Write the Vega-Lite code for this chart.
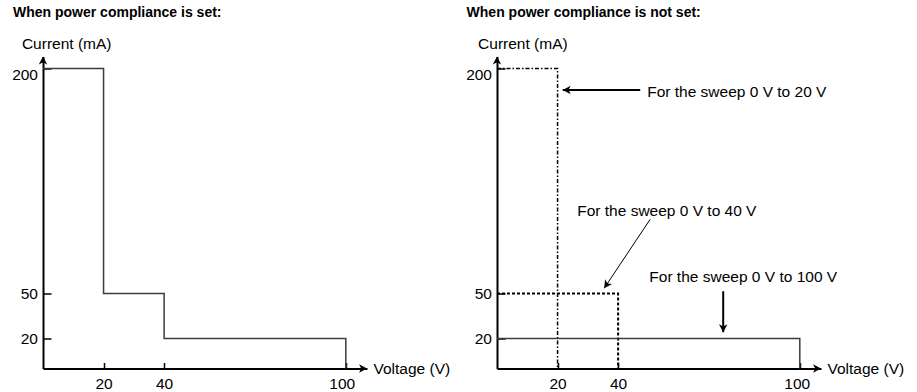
{
  "$schema": "https://vega.github.io/schema/vega-lite/v6.json",
  "padding": {"left": 11, "top": 5.5, "right": 0, "bottom": 0},
  "background": "white",
  "bounds": "flush",
  "spacing": 130,
  "config": {
    "view": {"stroke": null},
    "font": "Liberation Sans",
    "axis": {
      "domainColor": "black", "domainWidth": 2, "tickColor": "black", "tickWidth": 1.5,
      "labelColor": "black", "labelFontSize": 15.5, "labelFont": "Liberation Sans",
      "titleFontSize": 15.5, "titleFontWeight": "normal", "titleColor": "black", "titleFont": "Liberation Sans",
      "grid": false, "labelFlush": false, "labelOverlap": false, "labelBound": false
    },
    "axisX": {"tickSize": -6, "labelPadding": 14, "labelAngle": 0, "titleAngle": 0, "titleX": 330, "titleY": 0, "titleAlign": "left", "titleBaseline": "middle"},
    "axisY": {"tickSize": -8, "labelPadding": 13.5, "titleAngle": 0, "titleAlign": "left", "titleBaseline": "alphabetic", "titleY": -7.8}
  },
  "datasets": {
    "steps": [
      {"s": "set", "i": 0, "v": 0, "c": 200}, {"s": "set", "i": 1, "v": 20, "c": 200},
      {"s": "set", "i": 2, "v": 20, "c": 50}, {"s": "set", "i": 3, "v": 40, "c": 50},
      {"s": "set", "i": 4, "v": 40, "c": 20}, {"s": "set", "i": 5, "v": 100, "c": 20},
      {"s": "set", "i": 6, "v": 100, "c": 0},
      {"s": "s20", "i": 0, "v": 0, "c": 200}, {"s": "s20", "i": 1, "v": 20, "c": 200}, {"s": "s20", "i": 2, "v": 20, "c": 0},
      {"s": "s40", "i": 0, "v": 0, "c": 50}, {"s": "s40", "i": 1, "v": 40, "c": 50}, {"s": "s40", "i": 2, "v": 40, "c": 0},
      {"s": "s100", "i": 0, "v": 0, "c": 20}, {"s": "s100", "i": 1, "v": 100, "c": 20}, {"s": "s100", "i": 2, "v": 100, "c": 0}
    ],
    "axisArrows": [{"d": "up", "v": 0, "c": 208}, {"d": "right", "v": 107, "c": 0}],
    "arrows": [
      {"a": "a20", "v": 21.7, "c": 185.7, "v2": 47.3, "c2": 185.7},
      {"a": "a40", "v": 35.4, "c": 53.5, "v2": 50.6, "c2": 99.5},
      {"a": "a100", "v": 74.7, "c": 24.2, "v2": 74.7, "c2": 51.5}
    ],
    "notes": [
      {"t": "For the sweep 0 V to 20 V", "v": 49.6, "c": 181.1},
      {"t": "For the sweep 0 V to 40 V", "v": 26.5, "c": 101.5},
      {"t": "For the sweep 0 V to 100 V", "v": 50.3, "c": 57.7}
    ]
  },
  "hconcat": [
    {
      "width": 324, "height": 312,
      "title": {"text": "When power compliance is set:", "anchor": "start", "frame": "group", "dx": -30, "fontSize": 14, "fontWeight": "bold", "font": "Liberation Sans", "color": "black", "offset": 17},
      "encoding": {
        "x": {"field": "v", "type": "quantitative", "scale": {"domain": [0, 107], "nice": false, "zero": true},
              "axis": {"values": [20, 40, 100], "title": "Voltage (V)", "labelOffset": {"condition": {"test": "datum.value == 100", "value": -4}, "value": 0}}},
        "y": {"field": "c", "type": "quantitative", "scale": {"domain": [0, 208], "nice": false, "zero": true},
              "axis": {"values": [20, 50, 200], "title": "Current (mA)", "titleX": -21.6, "labelOffset": {"condition": {"test": "datum.value == 200", "value": 6}, "value": 0}}}
      },
      "layer": [
        {"data": {"name": "steps"}, "transform": [{"filter": "datum.s == 'set'"}],
         "mark": {"type": "line", "color": "#3c3c3c", "strokeWidth": 1.5, "strokeCap": "butt", "strokeJoin": "miter"},
         "encoding": {"order": {"field": "i", "type": "quantitative"}}},
        {"data": {"name": "axisArrows"}, "transform": [{"filter": "datum.d == 'up'"}],
         "mark": {"type": "point", "shape": "M0,0 L1.6,3 L0,2.2 L-1.6,3 Z", "filled": true, "color": "black", "size": 28, "opacity": 1, "angle": 0},
         "encoding": {}},
        {"data": {"name": "axisArrows"}, "transform": [{"filter": "datum.d == 'right'"}],
         "mark": {"type": "point", "shape": "M0,0 L1.6,3 L0,2.2 L-1.6,3 Z", "filled": true, "color": "black", "size": 28, "opacity": 1, "angle": 90},
         "encoding": {}}
      ]
    },
    {
      "width": 324, "height": 312,
      "title": {"text": "When power compliance is not set:", "anchor": "start", "frame": "group", "dx": -30.4, "fontSize": 14, "fontWeight": "bold", "font": "Liberation Sans", "color": "black", "offset": 17},
      "encoding": {
        "x": {"field": "v", "type": "quantitative", "scale": {"domain": [0, 107], "nice": false, "zero": true},
              "axis": {"values": [20, 40, 100], "title": "Voltage (V)", "labelOffset": {"condition": {"test": "datum.value == 100", "value": -3}, "value": 0}}},
        "y": {"field": "c", "type": "quantitative", "scale": {"domain": [0, 208], "nice": false, "zero": true},
              "axis": {"values": [20, 50, 200], "title": "Current (mA)", "titleX": -19.4, "labelOffset": {"condition": {"test": "datum.value == 200", "value": 6}, "value": 0}}}
      },
      "layer": [
        {"data": {"name": "steps"}, "transform": [{"filter": "datum.s == 's20'"}],
         "mark": {"type": "line", "color": "black", "strokeWidth": 1.5, "strokeDash": [4, 2, 1.5, 2], "strokeCap": "butt"},
         "encoding": {"order": {"field": "i", "type": "quantitative"}}},
        {"data": {"name": "steps"}, "transform": [{"filter": "datum.s == 's40'"}],
         "mark": {"type": "line", "color": "black", "strokeWidth": 2, "strokeDash": [3, 2], "strokeCap": "butt"},
         "encoding": {"order": {"field": "i", "type": "quantitative"}}},
        {"data": {"name": "steps"}, "transform": [{"filter": "datum.s == 's100'"}],
         "mark": {"type": "line", "color": "#3c3c3c", "strokeWidth": 1.5, "strokeCap": "butt"},
         "encoding": {"order": {"field": "i", "type": "quantitative"}}},
        {"data": {"name": "arrows"}, "transform": [{"filter": "datum.a != 'a40'"}],
         "mark": {"type": "rule", "color": "black", "strokeWidth": 2},
         "encoding": {"x2": {"field": "v2"}, "y2": {"field": "c2"}}},
        {"data": {"name": "arrows"}, "transform": [{"filter": "datum.a == 'a40'"}],
         "mark": {"type": "rule", "color": "black", "strokeWidth": 1},
         "encoding": {"x2": {"field": "v2"}, "y2": {"field": "c2"}}},
        {"data": {"name": "arrows"}, "transform": [{"filter": "datum.a == 'a20'"}],
         "mark": {"type": "point", "shape": "M0,0 L1.6,3 L0,2.2 L-1.6,3 Z", "filled": true, "color": "black", "size": 28, "opacity": 1, "angle": 270},
         "encoding": {}},
        {"data": {"name": "arrows"}, "transform": [{"filter": "datum.a == 'a40'"}],
         "mark": {"type": "point", "shape": "M0,0 L1.6,3 L0,2.2 L-1.6,3 Z", "filled": true, "color": "black", "size": 28, "opacity": 1, "angle": 213.7},
         "encoding": {}},
        {"data": {"name": "arrows"}, "transform": [{"filter": "datum.a == 'a100'"}],
         "mark": {"type": "point", "shape": "M0,0 L1.6,3 L0,2.2 L-1.6,3 Z", "filled": true, "color": "black", "size": 28, "opacity": 1, "angle": 180},
         "encoding": {}},
        {"data": {"name": "notes"},
         "mark": {"type": "text", "align": "left", "baseline": "alphabetic", "fontSize": 15.5, "font": "Liberation Sans", "color": "black"},
         "encoding": {"text": {"field": "t"}}},
        {"data": {"name": "axisArrows"}, "transform": [{"filter": "datum.d == 'up'"}],
         "mark": {"type": "point", "shape": "M0,0 L1.6,3 L0,2.2 L-1.6,3 Z", "filled": true, "color": "black", "size": 28, "opacity": 1, "angle": 0},
         "encoding": {}},
        {"data": {"name": "axisArrows"}, "transform": [{"filter": "datum.d == 'right'"}],
         "mark": {"type": "point", "shape": "M0,0 L1.6,3 L0,2.2 L-1.6,3 Z", "filled": true, "color": "black", "size": 28, "opacity": 1, "angle": 90},
         "encoding": {}}
      ]
    }
  ]
}
